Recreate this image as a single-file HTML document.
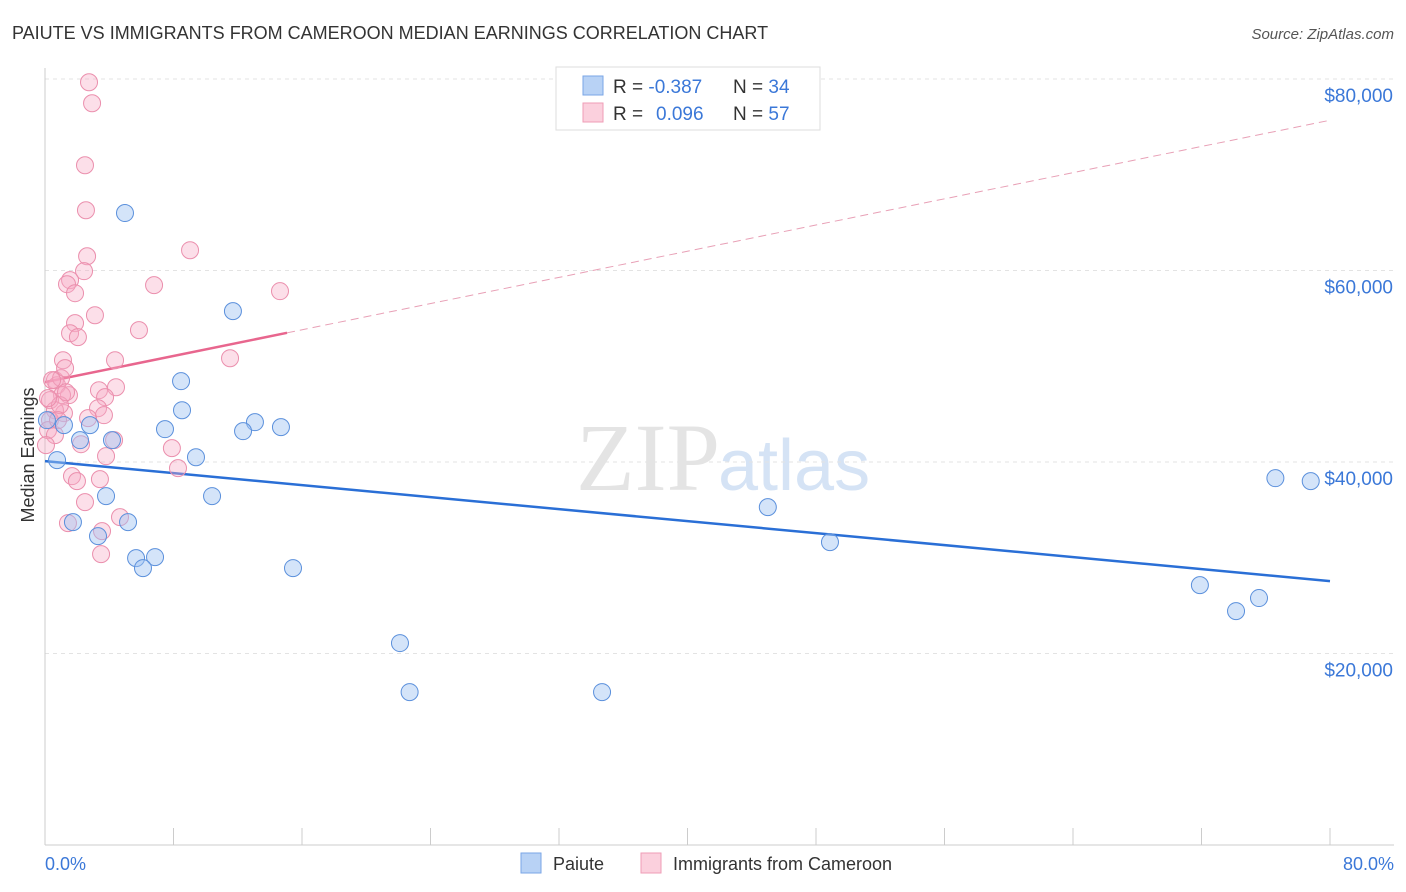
<!DOCTYPE html>
<html><head><meta charset="utf-8"><style>
body{margin:0;background:#fff;font-family:"Liberation Sans",sans-serif}
svg{display:block}
</style></head><body>
<svg id="chart" width="1406" height="892">
<text x="12" y="39" font-size="18" fill="#333">PAIUTE VS IMMIGRANTS FROM CAMEROON MEDIAN EARNINGS CORRELATION CHART</text>
<text x="1394" y="39" font-size="15" fill="#555" font-style="italic" text-anchor="end">Source: ZipAtlas.com</text>
<text x="720" y="490" font-size="96" fill="#e4e4e4" text-anchor="end" font-family="Liberation Serif,serif">ZIP</text>
<text x="718" y="490" font-size="72" fill="#d5e3f5">atlas</text>
<g id="grid"></g><g id="axes"></g><g id="trend"></g><g id="pts"></g>
<text transform="translate(34,455) rotate(-90)" font-size="18" fill="#333" text-anchor="middle">Median Earnings</text>
<text x="45" y="870" font-size="18" fill="#3b78d8">0.0%</text>
<text x="1394" y="870" font-size="18" fill="#3b78d8" text-anchor="end">80.0%</text>
<g>
<rect x="556" y="67" width="264" height="63" fill="#fff" stroke="#ddd"/>
<rect x="583" y="76" width="20" height="19" fill="#b8d2f5" stroke="#7aa6e6"/>
<rect x="583" y="103" width="20" height="19" fill="#fbd0dd" stroke="#ef9db6"/>
<text x="613" y="93" font-size="19" fill="#333">R = <tspan fill="#3b78d8">-0.387</tspan><tspan x="733">N = </tspan><tspan fill="#3b78d8">34</tspan></text>
<text x="613" y="120" font-size="19" fill="#333">R = <tspan fill="#3b78d8" x="656">0.096</tspan><tspan x="733">N = </tspan><tspan fill="#3b78d8">57</tspan></text>
</g>
<g>
<rect x="521" y="853" width="20" height="20" fill="#b8d2f5" stroke="#7aa6e6"/>
<text x="553" y="870" font-size="18" fill="#333">Paiute</text>
<rect x="641" y="853" width="20" height="20" fill="#fbd0dd" stroke="#ef9db6"/>
<text x="673" y="870" font-size="18" fill="#333">Immigrants from Cameroon</text>
</g>
</svg>
<script>
const yTicks=[20000,40000,60000,80000];
const yTickLabels=["$20,000","$40,000","$60,000","$80,000"];
const xTicks=[0,8,16,24,32,40,48,56,64,72,80];
const paiuteX=[4.98,11.7,8.47,8.53,7.47,13.07,12.33,14.69,9.4,0.75,1.18,2.8,2.18,4.17,10.4,3.8,1.74,5.17,3.3,5.67,6.85,6.1,15.44,22.1,22.7,34.68,45.0,48.87,71.9,74.15,75.58,76.6,78.8,0.12];
const paiuteY=[66000,55760,48440,45410,43430,44160,43220,43640,40500,40200,43850,43850,42280,42280,36440,36440,33720,33720,32260,29960,30070,28920,28920,21090,15970,15970,35290,31630,27140,24430,25790,38310,38000,44370];
const camX=[2.74,2.93,2.49,2.55,9.03,2.62,2.43,1.56,1.37,1.87,6.79,14.63,3.11,5.85,1.87,1.56,2.05,1.12,4.36,11.52,0.62,0.75,1.0,4.42,3.36,1.49,3.74,1.06,0.31,3.3,1.18,0.62,3.67,0.31,0.19,2.24,4.3,7.9,3.8,8.28,1.68,1.99,3.42,2.49,4.67,1.43,3.55,3.49,0.62,0.06,0.93,0.44,1.25,1.31,0.81,2.68,0.19];
const camY=[79660,77470,70990,66290,62120,61490,59930,58990,58570,57630,58470,57840,55330,53770,54500,53450,53040,50630,50630,50840,48550,48020,48760,47810,47500,46980,46770,46980,46460,45620,45100,45410,44890,44370,43330,41860,42280,41450,40610,39360,38520,38000,38210,35810,34240,33620,32780,30380,42810,41760,45940,48550,49800,47290,44370,44580,46670];
const paiuteTrend=[40090,27560];
const camTrend=[48340,75690];
const camSolidEnd=15.07;
const X=v=>45+v/80*1285, Y=v=>845-v/20000*191.5;
const NS="http://www.w3.org/2000/svg";
function mk(t,a,p){const e=document.createElementNS(NS,t);for(const k in a)e.setAttribute(k,a[k]);document.getElementById(p).appendChild(e);return e;}
yTicks.forEach((t,i)=>{
 const l=mk('line',{x1:45,x2:1394,y1:Y(t),y2:Y(t),stroke:'#e3e3e3','stroke-dasharray':'4,4'},'grid');
 
 
 const tx=mk('text',{x:1393,y:Y(t)+23,'font-size':19,fill:'#3b78d8','text-anchor':'end'},'grid');
 tx.textContent=yTickLabels[i];
 
 
});
const ax=mk('line',{x1:45,x2:45,y1:68,y2:845,stroke:'#ccc'},'axes');


const bx=mk('line',{x1:45,x2:1394,y1:845,y2:845,stroke:'#ccc'},'axes');


xTicks.forEach(t=>{
 const l=mk('line',{x1:X(t),x2:X(t),y1:828,y2:845,stroke:'#ccc'},'axes');
 
 
});
const bt=mk('line',{x1:X(0),y1:Y(paiuteTrend[0]),x2:X(80),y2:Y(paiuteTrend[1]),stroke:'#2a6fd6','stroke-width':2.5},'trend');


const cAt=x=>camTrend[0]+(camTrend[1]-camTrend[0])*x/80;
const pt=mk('line',{x1:X(0),y1:Y(camTrend[0]),x2:X(camSolidEnd),y2:Y(cAt(camSolidEnd)),stroke:'#e8668e','stroke-width':2.5},'trend');


const pd=mk('line',{x1:X(camSolidEnd),y1:Y(cAt(camSolidEnd)),x2:X(80),y2:Y(camTrend[1]),stroke:'#e8a0b6','stroke-width':1,'stroke-dasharray':'8,5'},'trend');


camX.forEach((x,i)=>{
 const c=mk('circle',{cx:X(x),cy:Y(camY[i]),r:8.5,fill:'rgba(246,170,196,0.38)',stroke:'#eb8fad','stroke-width':1},'pts');
 
 
});
paiuteX.forEach((x,i)=>{
 const c=mk('circle',{cx:X(x),cy:Y(paiuteY[i]),r:8.5,fill:'rgba(160,196,242,0.45)',stroke:'#5b90dc','stroke-width':1},'pts');
 
 
});
</script>
</body></html>
